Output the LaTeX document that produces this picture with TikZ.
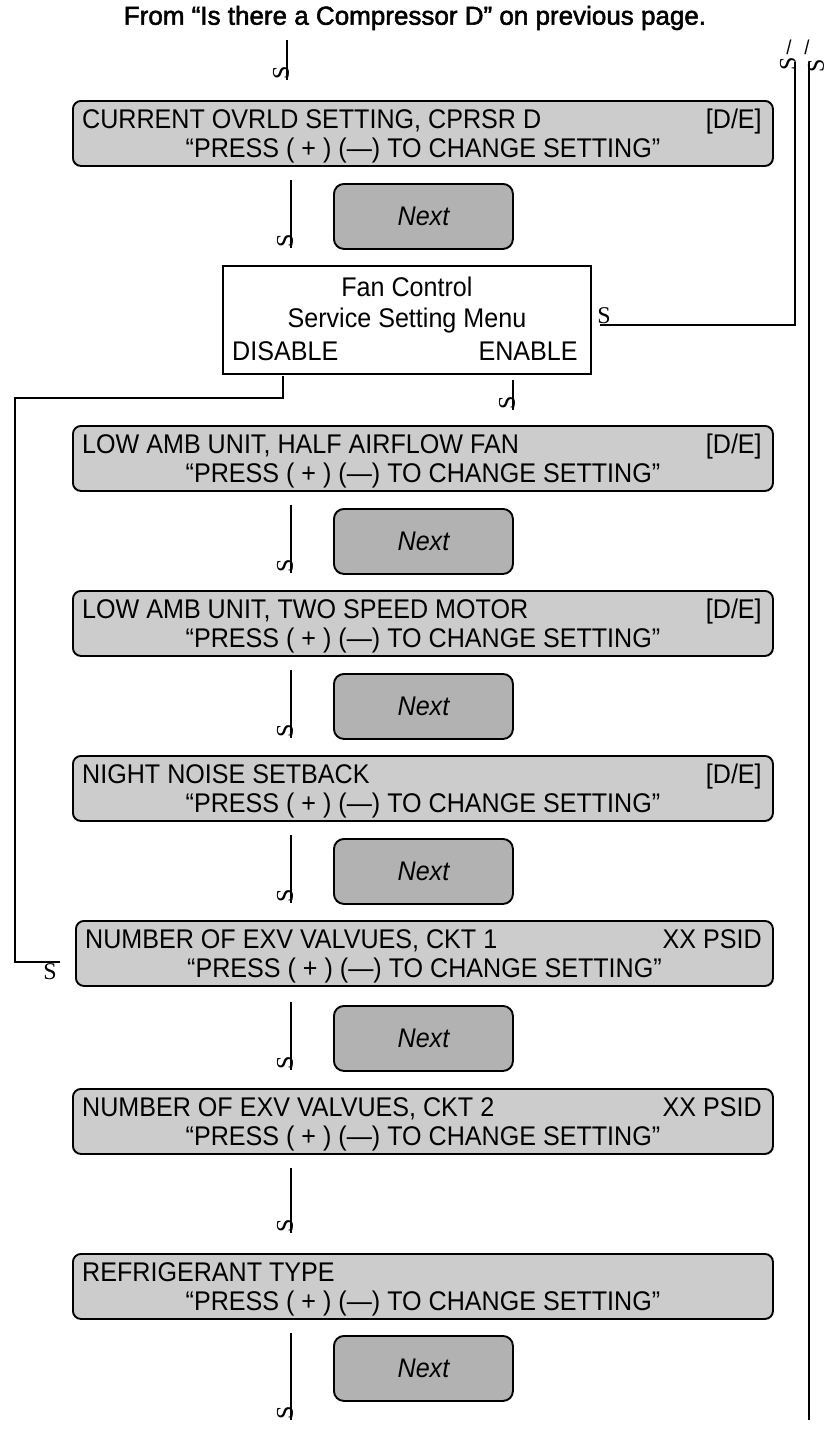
\documentclass[tikz,border=0pt]{standalone}
\usepackage{fontspec}
\setmainfont{Liberation Sans}[FakeStretch=0.93]
\newfontfamily\sgfont{Liberation Serif}
\newfontfamily\titlefont{Liberation Sans}[FakeBold=2]
\newcommand\dispbox[5]{%
  \node[dbox, minimum width={772-#2}] (#1) at (#2,#3) {};
  \node[txt, anchor=base west] (#1l) at ([xshift=10pt,yshift=-28pt]#1.north west) {#4};
  \node[txt, anchor=base east] (#1r) at ([xshift=-12pt,yshift=-28pt]#1.north east) {#5};
  \node[txt, anchor=base] (#1p) at ([yshift=-57.5pt]#1.north) {“PRESS ( + ) (—) TO CHANGE SETTING”};
}
\newcommand\nextbox[2]{\node[nbox] (#1) at (333,#2) {Next};}
\newcommand\downline[4]{% name x ytop ybot
  \coordinate (#1a) at (#2,#3);
  \coordinate (#1b) at (#2,#4);
  \draw[conn] (#1a) -- (#1b);
  \node[sg, rotate=90] (#1s) at ([xshift=-6pt,yshift=7pt]#1b) {S};
}
\begin{document}
\begin{tikzpicture}[x=1pt,y=-1pt,
  dbox/.style={draw, line width=1.9pt, rounded corners=8pt, fill=black!20, anchor=north west, inner sep=0pt, minimum height=65pt},
  nbox/.style={draw, line width=1.9pt, rounded corners=10pt, fill=black!30, anchor=north west, inner sep=0pt, minimum width=179pt, minimum height=65pt, font=\fontsize{27}{28}\selectfont\itshape},
  fanbox/.style={draw, line width=1.9pt, anchor=north west, inner sep=0pt, minimum width=368pt, minimum height=108pt},
  txt/.style={font=\fontsize{27}{28}\selectfont, inner sep=0pt},
  conn/.style={line width=2.5pt},
  sg/.style={font=\sgfont\fontsize{24}{24}\selectfont, inner sep=0pt},
  slash/.style={font=\fontsize{20}{20}\selectfont, inner sep=0pt},
]
\useasboundingbox (0,0) rectangle (830,1435);

% title
\node[font=\titlefont\fontsize{26}{28}\selectfont, inner sep=0pt] (title) at (415,18) {From “Is there a Compressor D” on previous page.};

% boxes
\dispbox{b1}{72}{100}{CURRENT OVRLD SETTING, CPRSR D}{[D/E]}
\dispbox{b2}{72}{425}{LOW AMB UNIT, HALF AIRFLOW FAN}{[D/E]}
\dispbox{b3}{72}{590}{LOW AMB UNIT, TWO SPEED MOTOR}{[D/E]}
\dispbox{b4}{72}{755}{NIGHT NOISE SETBACK}{[D/E]}
\dispbox{b5}{75}{920}{NUMBER OF EXV VALVUES, CKT 1}{XX PSID}
\dispbox{b6}{72}{1088}{NUMBER OF EXV VALVUES, CKT 2}{XX PSID}
\dispbox{b7}{72}{1253}{REFRIGERANT TYPE}{}

% next buttons
\nextbox{n1}{183}
\nextbox{n2}{508}
\nextbox{n3}{673}
\nextbox{n4}{838}
\nextbox{n5}{1005}
\nextbox{n7}{1335}

% fan control
\node[fanbox] (fan) at (222,265) {};
\node[txt, anchor=base] (fan1) at ([yshift=-31pt]fan.north) {Fan Control};
\node[txt, anchor=base] (fan2) at ([yshift=-62pt]fan.north) {Service Setting Menu};
\node[txt, anchor=base west] (fan3) at ([xshift=10pt,yshift=-95pt]fan.north west) {DISABLE};
\node[txt, anchor=base east] (fan4) at ([xshift=-14pt,yshift=-95pt]fan.north east) {ENABLE};

% connectors
\downline{l0}{287}{40}{80}
\downline{l1}{291}{180}{248}
\downline{l2}{291}{505}{573}
\downline{l3}{291}{670}{738}
\downline{l4}{291}{835}{903}
\downline{l5}{291}{1002}{1070}
\downline{l6}{291}{1168}{1233}
\downline{l7}{291}{1333}{1420}
\downline{le}{513}{380}{410}

% disable loop
\coordinate (d0) at (283,376);
\coordinate (d1) at (60,962);
\draw[conn] (d0) -- (283,398) -- (15,398) -- (15,962) -- (d1);
\node[sg] (ds) at (50,972) {S};

% right side lines
\coordinate (r0) at (795,62);
\coordinate (r1) at (600,325);
\draw[conn] (r0) -- (795,325) -- (r1);
\node[sg] (rs) at (604,316) {S};
\node[sg, rotate=90] (rs0) at (788,64) {S};
\node[slash] (sl0) at (789,47) {/};

\coordinate (q0) at (809,62);
\coordinate (q1) at (809,1420);
\draw[conn] (q0) -- (q1);
\node[sg, rotate=90] (qs0) at (816,66) {S};
\node[slash] (sl1) at (807,47) {/};
\end{tikzpicture}
\end{document}
